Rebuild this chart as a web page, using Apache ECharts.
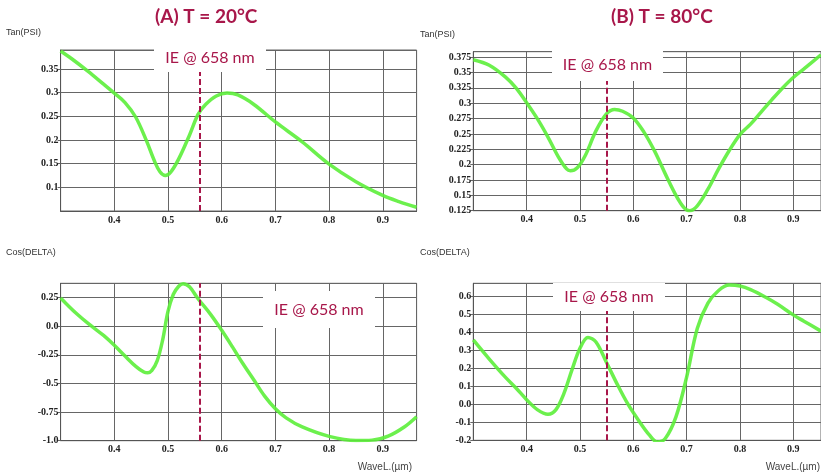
<!DOCTYPE html>
<html>
<head>
<meta charset="utf-8">
<script src="https://cdn.jsdelivr.net/npm/echarts@6/dist/echarts.min.js"></script>
<style>
  html, body { margin: 0; padding: 0; background: #fff; }
  #main { width: 821px; height: 476px; }
</style>
</head>
<body>
<div id="main"></div>
<script>
// (A) T = 20°C, Tan(PSI)
const tanAX = [0.300, 0.320, 0.350, 0.380, 0.400, 0.420, 0.440, 0.460, 0.475, 0.485, 0.495, 0.505, 0.520, 0.540, 0.556, 0.570, 0.590, 0.610, 0.630, 0.660, 0.700, 0.750, 0.800, 0.850, 0.900, 0.930, 0.963];
const tanAY = [0.388, 0.372, 0.346, 0.318, 0.299, 0.279, 0.248, 0.198, 0.155, 0.133, 0.125, 0.132, 0.160, 0.210, 0.254, 0.275, 0.293, 0.299, 0.295, 0.275, 0.238, 0.196, 0.149, 0.112, 0.083, 0.070, 0.058];
// (B) T = 80°C, Tan(PSI)
const tanBX = [0.300, 0.330, 0.360, 0.380, 0.400, 0.420, 0.440, 0.460, 0.475, 0.482, 0.495, 0.510, 0.530, 0.550, 0.565, 0.580, 0.600, 0.620, 0.640, 0.660, 0.680, 0.695, 0.705, 0.720, 0.740, 0.760, 0.780, 0.800, 0.820, 0.840, 0.860, 0.880, 0.900, 0.920, 0.952];
const tanBY = [0.371, 0.362, 0.343, 0.325, 0.301, 0.275, 0.245, 0.212, 0.193, 0.190, 0.195, 0.215, 0.255, 0.283, 0.290, 0.287, 0.276, 0.253, 0.222, 0.185, 0.150, 0.130, 0.125, 0.133, 0.160, 0.193, 0.223, 0.249, 0.266, 0.286, 0.306, 0.325, 0.342, 0.356, 0.379];
// (A) Cos(DELTA)
const cosAX = [0.300, 0.310, 0.330, 0.350, 0.380, 0.400, 0.420, 0.440, 0.455, 0.462, 0.470, 0.480, 0.490, 0.500, 0.510, 0.520, 0.528, 0.540, 0.556, 0.580, 0.600, 0.620, 0.640, 0.660, 0.680, 0.700, 0.720, 0.750, 0.800, 0.850, 0.880, 0.910, 0.940, 0.963];
const cosAY = [0.247, 0.200, 0.110, 0.030, -0.080, -0.166, -0.260, -0.350, -0.400, -0.407, -0.385, -0.300, -0.120, 0.130, 0.280, 0.350, 0.372, 0.345, 0.241, 0.100, -0.035, -0.180, -0.330, -0.470, -0.610, -0.720, -0.800, -0.880, -0.962, -0.998, -0.995, -0.960, -0.880, -0.790];
// (B) Cos(DELTA)
const cosBX = [0.300, 0.330, 0.360, 0.380, 0.400, 0.420, 0.440, 0.455, 0.470, 0.485, 0.500, 0.515, 0.530, 0.550, 0.570, 0.590, 0.610, 0.630, 0.645, 0.660, 0.680, 0.700, 0.720, 0.740, 0.760, 0.780, 0.800, 0.820, 0.850, 0.870, 0.900, 0.920, 0.952];
const cosBY = [0.356, 0.250, 0.150, 0.090, 0.025, -0.030, -0.056, -0.030, 0.060, 0.190, 0.310, 0.370, 0.345, 0.230, 0.110, 0.000, -0.090, -0.170, -0.209, -0.190, -0.070, 0.150, 0.420, 0.560, 0.630, 0.660, 0.655, 0.635, 0.590, 0.555, 0.495, 0.460, 0.405];

// dashed "IE @ 658 nm" marker position per panel
const ieX = [0.556, 0.551, 0.556, 0.554];

const titles = ["(A) T = 20°C", "(B) T = 80°C"];
const yNames = ["Tan(PSI)", "Cos(DELTA)"];
const xName = "WaveL.(µm)";
const ieText = "IE @ 658 nm";

const xs = [tanAX, tanBX, cosAX, cosBX];
const ys = [tanAY, tanBY, cosAY, cosBY];

// axis ranges and tick steps per panel
const yMin = [0.05, 0.125, -1.0, -0.2];
const yMax = [0.39, 0.384, 0.376, 0.67];
const yStep = [0.05, 0.025, 0.25, 0.1];
const xMax = [0.963, 0.952, 0.963, 0.952];

const boxes = [
  { x: 154, y: 43, w: 112, h: 29 },
  { x: 552, y: 48, w: 111, h: 33 },
  { x: 263, y: 291, w: 112, h: 37 },
  { x: 553, y: 283, w: 112, h: 28 }
];
const grids = [
  { left: 60.6, width: 356, top: 50, height: 161 },
  { left: 473.3, width: 347.7, top: 51.7, height: 159 },
  { left: 60.6, width: 356, top: 283.3, height: 157.4 },
  { left: 473.3, width: 347.7, top: 283.3, height: 157 }
];

const crimson = "#a8174a";
const tickFont = { fontFamily: "Liberation Serif", fontWeight: "bold", fontSize: 10, color: "#222" };

function yLabel(i) {
  return function (v) {
    if (i === 2) {
      if (Math.abs(v - Math.round(v)) < 1e-9) return Math.round(v).toFixed(1);
      return String(parseFloat(v.toFixed(2)));
    }
    if (i === 3) return v.toFixed(1);
    return String(parseFloat(v.toFixed(3)));
  };
}

const chart = echarts.init(document.getElementById("main"));

const boxGraphics = [];
boxes.forEach(b => {
  boxGraphics.push({ type: "rect", z: 100, shape: { x: b.x, y: b.y, width: b.w, height: b.h }, style: { fill: "#fff" } });
  boxGraphics.push({ type: "text", z: 101, x: b.x + b.w / 2, y: b.y + b.h / 2,
    style: { text: ieText, fill: crimson, font: "16px Lato", textAlign: "center", textVerticalAlign: "middle" } });
});

const option = {
  animation: false,
  backgroundColor: "#fff",
  grid: grids.map(g => ({
    left: g.left, top: g.top, width: g.width, height: g.height,
    show: true, borderColor: "#666", borderWidth: 1, backgroundColor: "transparent"
  })),
  xAxis: grids.map((g, i) => ({
    type: "value", gridIndex: i, min: 0.3, max: xMax[i], interval: 0.1,
    axisLine: { show: true, onZero: false, lineStyle: { color: "#555" } },
    axisTick: { show: false },
    splitLine: { show: true, lineStyle: { color: "#666", width: 1 } },
    axisLabel: Object.assign({
      margin: 4, showMinLabel: false, showMaxLabel: false,
      formatter: v => v.toFixed(1)
    }, tickFont)
  })),
  yAxis: grids.map((g, i) => ({
    type: "value", gridIndex: i, min: yMin[i], max: yMax[i], interval: yStep[i],
    axisLine: { show: true, lineStyle: { color: "#555" } },
    axisTick: { show: true, length: 3, lineStyle: { color: "#666" } },
    splitLine: { show: true, lineStyle: { color: "#666", width: 1 } },
    axisLabel: Object.assign({
      margin: 2, showMaxLabel: false, showMinLabel: i !== 0,
      formatter: yLabel(i)
    }, tickFont)
  })),
  series: xs.map((xArr, i) => ({
    type: "line", xAxisIndex: i, yAxisIndex: i,
    data: xArr.map((x, k) => [x, ys[i][k]]),
    smooth: 0.35, showSymbol: false, clip: true,
    lineStyle: { color: "#5cee3a", width: 3.5, opacity: 0.9 },
    markLine: {
      silent: true, symbol: "none", label: { show: false },
      lineStyle: { color: crimson, width: 2, type: [6, 3] },
      data: [{ xAxis: ieX[i] }]
    }
  })),
  graphic: [
    { type: "text", left: 155, top: 7, style: { text: titles[0], fill: crimson, font: "bold 19px Lato" } },
    { type: "text", left: 611, top: 7, style: { text: titles[1], fill: crimson, font: "bold 19px Lato" } },
    { type: "text", left: 6, top: 28, style: { text: yNames[0], fill: "#333", font: "9px 'Liberation Sans'" } },
    { type: "text", left: 420, top: 30, style: { text: yNames[0], fill: "#333", font: "9px 'Liberation Sans'" } },
    { type: "text", left: 6, top: 248, style: { text: yNames[1], fill: "#333", font: "9px 'Liberation Sans'" } },
    { type: "text", left: 420, top: 248, style: { text: yNames[1], fill: "#333", font: "9px 'Liberation Sans'" } },
    { type: "text", right: 409, top: 462, style: { text: xName, fill: "#444", font: "10px 'Liberation Sans'" } },
    { type: "text", right: 1, top: 462, style: { text: xName, fill: "#444", font: "10px 'Liberation Sans'" } }
  ].concat(boxGraphics)
};

chart.setOption(option);
</script>
</body>
</html>
